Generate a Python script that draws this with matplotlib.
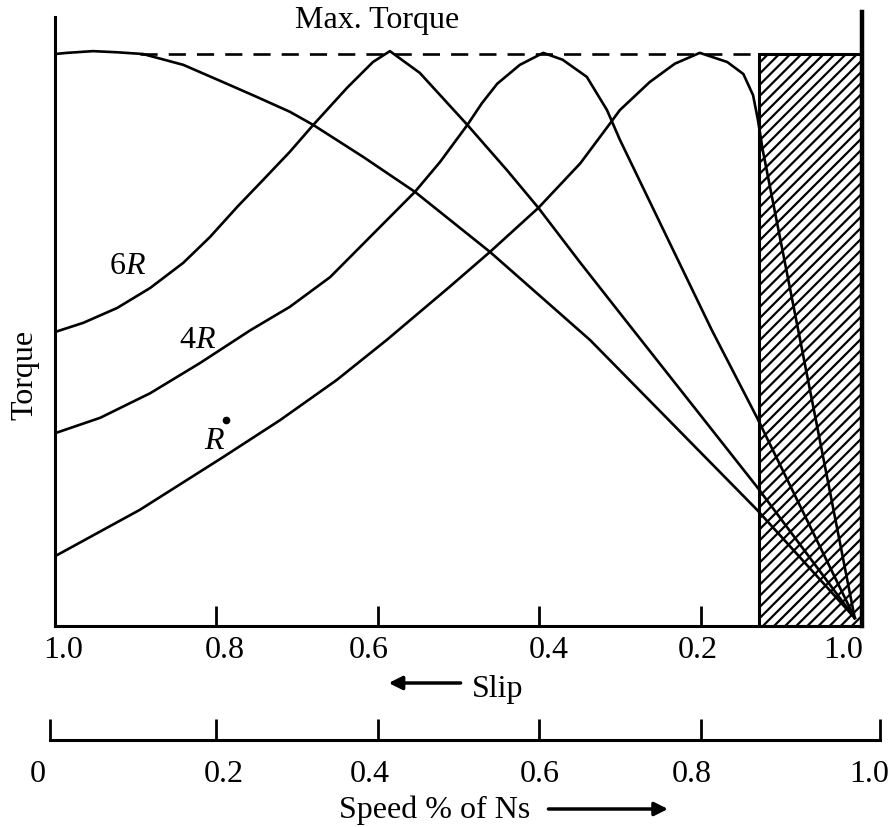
import matplotlib.pyplot as plt
from matplotlib.patches import Rectangle
from matplotlib.transforms import offset_copy

plt.rcParams['font.family'] = ['Liberation Serif', 'DejaVu Serif']
plt.rcParams['mathtext.fontset'] = 'custom'
plt.rcParams['mathtext.rm'] = 'Liberation Serif'
plt.rcParams['mathtext.it'] = 'Liberation Serif:italic'
plt.rcParams['hatch.linewidth'] = 1.6

# x: position along the speed axis (slip = 1 - x), y: torque / max torque
x_top = [0, 0.015, 0.047, 0.077, 0.109, 0.159, 0.208, 0.250, 0.291, 0.320,
         0.382, 0.446, 0.539, 0.663, 0.870, 0.991]
t_top = [1.000, 1.002, 1.005, 1.003, 1.000, 0.981, 0.951, 0.925, 0.899, 0.876,
         0.820, 0.759, 0.654, 0.500, 0.203, 0.014]

x_6r = [0, 0.035, 0.077, 0.118, 0.159, 0.192, 0.226, 0.258, 0.291, 0.320, 0.362,
        0.394, 0.415, 0.452, 0.511, 0.560, 0.599, 0.651, 0.700, 0.870, 0.991]
t_6r = [0.514, 0.530, 0.556, 0.591, 0.635, 0.680, 0.733, 0.780, 0.829, 0.876, 0.941,
        0.986, 1.005, 0.967, 0.876, 0.797, 0.731, 0.635, 0.547, 0.243, 0.014]

x_4r = [0, 0.056, 0.118, 0.180, 0.242, 0.291, 0.341, 0.403, 0.446, 0.477, 0.511,
        0.529, 0.548, 0.576, 0.605, 0.629, 0.659, 0.684, 0.700, 0.814, 0.870, 0.991]
t_4r = [0.337, 0.364, 0.407, 0.460, 0.517, 0.558, 0.610, 0.698, 0.759, 0.811, 0.876,
        0.914, 0.948, 0.981, 1.002, 0.990, 0.960, 0.902, 0.850, 0.517, 0.364, 0.014]

x_r = [0, 0.105, 0.208, 0.279, 0.349, 0.411, 0.489, 0.539, 0.599, 0.651, 0.688, 0.700,
       0.737, 0.768, 0.799, 0.833, 0.853, 0.865, 0.871, 0.877, 0.921, 0.991]
t_r = [0.122, 0.203, 0.295, 0.360, 0.430, 0.500, 0.593, 0.654, 0.731, 0.809, 0.879, 0.902,
       0.951, 0.983, 1.002, 0.986, 0.965, 0.928, 0.885, 0.832, 0.517, 0.014]

curves = [(x_top, t_top), (x_6r, t_6r), (x_4r, t_4r), (x_r, t_r)]
curve_labels = ['6$R$', '4$R$', '$R$']
label_xy = [(0.090, 0.628), (0.176, 0.500), (0.198, 0.322)]

max_torque = 1.0
dash_start = 0.105
hatch_left = 0.872

tick_pos = [0, 0.2, 0.4, 0.6, 0.8, 1.0]
slip_labels = ['1.0', '0.8', '0.6', '0.4', '0.2', '1.0']
slip_nudge = [8, 8, -9, 10, -3, -19]
speed_labels = ['0', '0.2', '0.4', '0.6', '0.8', '1.0']
speed_nudge = [-12, 7, -8, 1, -9, -11]

FS = 23

fig = plt.figure(figsize=(8.93, 8.27), dpi=100)
ax = fig.add_axes([55 / 893, 201 / 827, 807 / 893, 614 / 827])
ax.set_xlim(0, 1)
ax.set_ylim(0, 614 / 572)

for xs, ts in curves:
    ax.plot(xs, ts, color='black', lw=1.9, solid_joinstyle='round', zorder=3)

ax.plot([dash_start, hatch_left], [max_torque, max_torque], color='black', lw=1.9,
        dashes=(6.5, 4.2), zorder=3)
ax.add_patch(Rectangle((hatch_left, 0), 1 - hatch_left, max_torque, fill=False,
                       hatch='///', edgecolor='black', lw=2.2, zorder=2))

for lab, (lx, ly) in zip(curve_labels, label_xy):
    ax.text(lx, ly, lab, fontsize=FS, ha='center', va='center')
ax.plot([0.212], [0.360], 'o', color='black', ms=4.5)

ax.text(0.399, 1.059, 'Max. Torque', fontsize=FS, ha='center', va='center', clip_on=False)
fig.text(25 / 893, 1 - 375 / 827, 'Torque', fontsize=FS, rotation=90, ha='center', va='center')

# spines and slip ticks
ax.spines['top'].set_visible(False)
ax.spines['left'].set_linewidth(2.2)
ax.spines['left'].set_bounds(0, 609 / 572)
ax.spines['bottom'].set_linewidth(2.2)
ax.spines['right'].set_linewidth(3.2)
ax.set_yticks([])
ax.set_xticks(tick_pos[1:-1])
ax.set_xticklabels([])
ax.tick_params(axis='x', direction='in', length=14.5, width=2, color='black')

xt = ax.get_xaxis_transform()
for v, lab, dx in zip(tick_pos, slip_labels, slip_nudge):
    ax.text(v, 0, lab, fontsize=FS, ha='center', va='center', clip_on=False,
            transform=offset_copy(xt, fig=fig, x=dx, y=-25, units='dots'))

t_slip = offset_copy(xt, fig=fig, y=-57, units='dots')
ax.annotate('', xy=(0.410, 0), xytext=(0.506, 0), xycoords=t_slip, textcoords=t_slip,
            arrowprops=dict(arrowstyle='-|>', lw=2.5, color='black', mutation_scale=20))
ax.text(0.548, 0, 'Slip', fontsize=FS, ha='center', va='center', clip_on=False,
        transform=offset_copy(xt, fig=fig, y=-64, units='dots'))

# speed axis below
ax2 = fig.add_axes([50 / 893, 87 / 827, 830 / 893, 21 / 827])
ax2.set_xlim(-5 / 807, 825 / 807)
ax2.set_ylim(0, 1)
for s in ['top', 'left', 'right']:
    ax2.spines[s].set_visible(False)
ax2.spines['bottom'].set_linewidth(2.2)
ax2.set_yticks([])
speed_tick_pos = [-5 / 807] + tick_pos[1:-1] + [825 / 807]
ax2.set_xticks(speed_tick_pos)
ax2.set_xticklabels([])
ax2.tick_params(axis='x', direction='in', length=15, width=2, color='black')
ax2.patch.set_alpha(0)

xt2 = ax2.get_xaxis_transform()
for v, lab, dx in zip(speed_tick_pos, speed_labels, speed_nudge):
    ax2.text(v, 0, lab, fontsize=FS, ha='center', va='center', clip_on=False,
             transform=offset_copy(xt2, fig=fig, x=dx, y=-35, units='dots'))

t_speed = offset_copy(xt2, fig=fig, y=-69, units='dots')
ax2.annotate('', xy=(0.763, 0), xytext=(0.608, 0), xycoords=t_speed, textcoords=t_speed,
             arrowprops=dict(arrowstyle='-|>', lw=2.5, color='black', mutation_scale=20))
ax2.text(0.470, 0, 'Speed % of Ns', fontsize=FS, ha='center', va='center', clip_on=False,
         transform=offset_copy(xt2, fig=fig, y=-70, units='dots'))

fig.savefig('out.png', dpi=100)
